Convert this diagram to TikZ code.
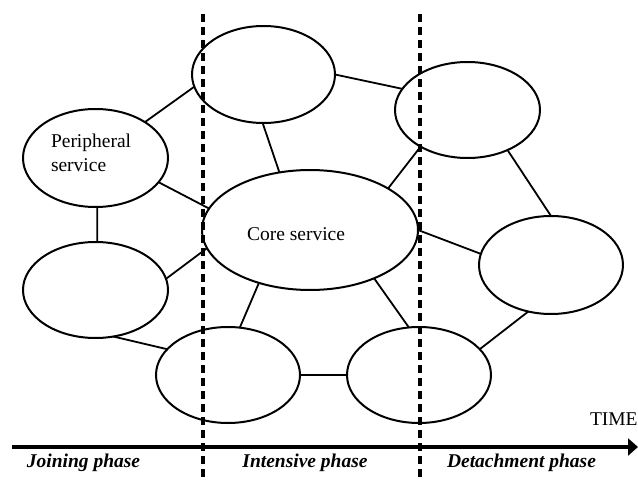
\documentclass[tikz,border=0pt]{standalone}
\usepackage{fontspec}
\setmainfont{Liberation Serif}
\usetikzlibrary{shapes.geometric,arrows.meta}

\tikzset{
  svc/.style={ellipse,draw,line width=2pt,inner sep=0pt,outer sep=0pt},
  link/.style={line width=1.8pt},
  phaseline/.style={line width=3.2pt,dash pattern=on 8pt off 5pt},
  timeaxis/.style={line width=3.4pt,-{Triangle[length=10pt,width=17pt]}},
  txt/.style={inner sep=0pt,outer sep=0pt,font=\fontsize{19.5}{24}\selectfont},
  phaselabel/.style={txt,font=\fontsize{19.5}{24}\selectfont\bfseries\itshape},
}

\begin{document}
\begin{tikzpicture}[x=1pt,y=-1pt]
  \useasboundingbox (0,0) rectangle (638,482);

  % phase boundaries
  \coordinate (d1top) at (203,14);
  \coordinate (d1bot) at (203,482);
  \coordinate (d2top) at (420,14);
  \coordinate (d2bot) at (420,482);
  \draw[phaseline] (d1top) -- (d1bot);
  \draw[phaseline] (d2top) -- (d2bot);

  % services
  \node[svc,minimum width=143pt,minimum height=97pt] (top)   at (263.5,74.5) {};
  \node[svc,minimum width=145pt,minimum height=98pt] (peri)  at (95.5,158) {};
  \node[svc,minimum width=216pt,minimum height=120pt] (core) at (310,230) {};
  \node[svc,minimum width=145pt,minimum height=96pt] (tr)    at (467.5,110) {};
  \node[svc,minimum width=145pt,minimum height=96pt] (ll)    at (95.5,290) {};
  \node[svc,minimum width=144pt,minimum height=98pt] (rt)    at (551,265) {};
  \node[svc,minimum width=144pt,minimum height=96pt] (bl)    at (228,375) {};
  \node[svc,minimum width=144pt,minimum height=96pt] (br)    at (419,375) {};

  % labels inside services (base anchor sits on the last line)
  \node[txt,anchor=base west,align=left] (peritxt) at (51,171) {Peripheral\\service};
  \node[txt,anchor=base west] (coretxt) at (247,240) {Core service};

  % links between services
  \draw[link] (peri.36.8)   -- (top.-170.7);
  \draw[link] (peri.-21.8)  -- (core.168.3);
  \draw[link] (peri.-88)    -- (ll.88);
  \draw[link] (top.-91)     -- (core.118.9);
  \draw[link] (top.0)       -- (tr.162);
  \draw[link] (ll.9.4)      -- (core.190.5);
  \draw[link] (ll.-69.2)    -- (bl.157.6);
  \draw[link] (core.-134.5) -- (bl.76.2);
  \draw[link] (core.-37.9)  -- (br.102.7);
  \draw[link] (core.-0.5)   -- (rt.171.2);
  \draw[link] (core.28.3)   -- (tr.-142.1);
  \draw[link] (tr.-45.4)    -- (rt.90);
  \draw[link] (bl.0)        -- (br.180);
  \draw[link] (br.23.5)     -- (rt.-116.1);

  % time axis
  \coordinate (axstart) at (12,447);
  \coordinate (axend) at (638,447);
  \draw[timeaxis] (axstart) -- (axend);
  \node[txt,anchor=base west] (time) at (590,425) {TIME};

  % phase names
  \node[phaselabel,anchor=base] (join) at (83.5,467) {Joining phase};
  \node[phaselabel,anchor=base] (inten) at (305,467) {Intensive phase};
  \node[phaselabel,anchor=base] (detach) at (521.5,467) {Detachment phase};
\end{tikzpicture}
\end{document}
